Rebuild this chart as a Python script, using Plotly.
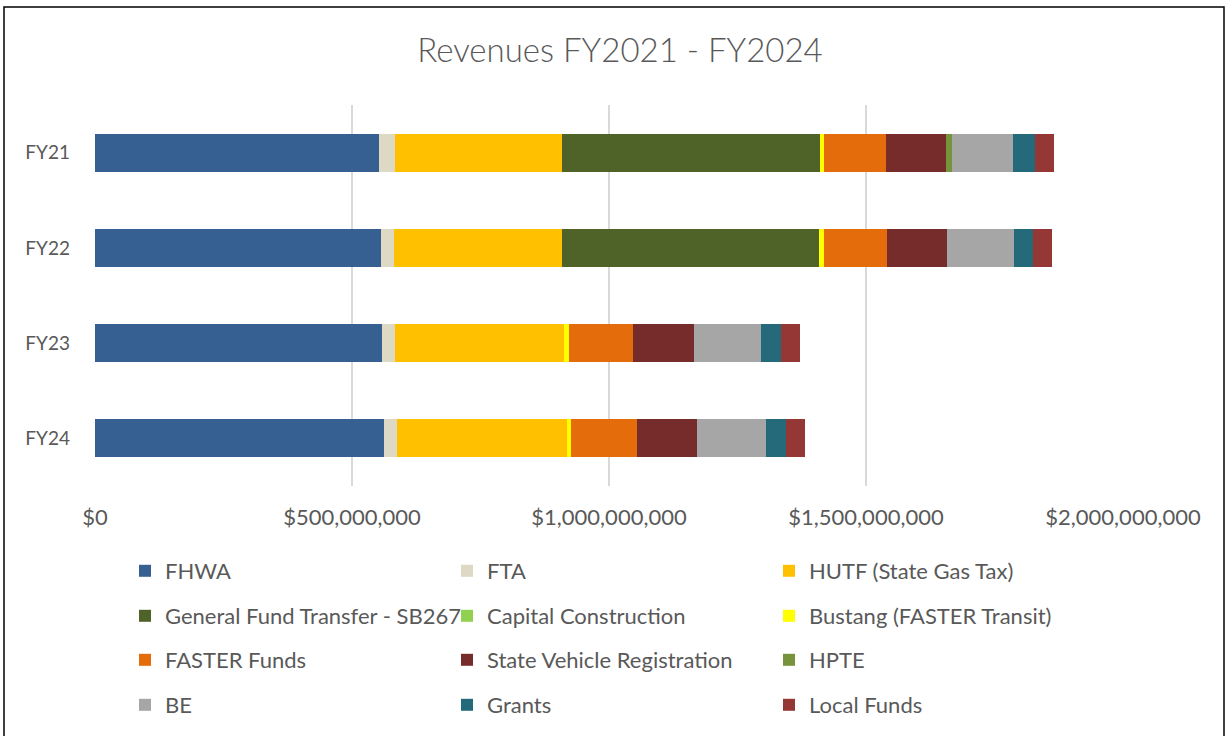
import plotly.graph_objects as go

categories = ["FY21", "FY22", "FY23", "FY24"]

series_names = [
    "FHWA", "FTA", "HUTF (State Gas Tax)",
    "General Fund Transfer - SB267", "Capital Construction", "Bustang (FASTER Transit)",
    "FASTER Funds", "State Vehicle Registration", "HPTE",
    "BE", "Grants", "Local Funds",
]

fhwa = [553e6, 557e6, 559e6, 562e6]
fta = [31e6, 25e6, 25e6, 25e6]
hutf = [325e6, 327e6, 329e6, 331e6]
general_fund = [501e6, 500e6, 0, 0]
capital_construction = [0, 0, 0, 0]
bustang = [8.5e6, 9e6, 8.5e6, 9e6]
faster_funds = [120e6, 123e6, 125e6, 127e6]
state_vehicle_reg = [117e6, 116e6, 119e6, 118e6]
hpte = [11e6, 0, 0, 0]
be = [119e6, 130e6, 131e6, 133e6]
grants = [44e6, 38e6, 38e6, 40e6]
local_funds = [36e6, 37e6, 37e6, 37e6]

series_values = [fhwa, fta, hutf, general_fund, capital_construction, bustang,
                 faster_funds, state_vehicle_reg, hpte, be, grants, local_funds]

colors = ["#376092", "#DDD9C4", "#FFC000", "#4F6228", "#92D050", "#FFFF00",
          "#E46C0A", "#772C2C", "#77933C", "#A6A6A6", "#256A7B", "#953735"]

tick_vals = [0, 500e6, 1000e6, 1500e6, 2000e6]
tick_text = ["$0", "$500,000,000", "$1,000,000,000", "$1,500,000,000", "$2,000,000,000"]

W, H = 1225, 736
ML, MR, MT, MB = 95, 102, 105, 250
PW = W - ML - MR
PH = H - MT - MB


def px_x(px):
    return (px - ML) / PW


def px_y(py):
    return (H - MB - py) / PH


TXT = "#595959"
FONT = "Lato"

fig = go.Figure()
legend_ids = ["legend", "legend2", "legend3", "legend4"]
for i, (name, vals, col) in enumerate(zip(series_names, series_values, colors)):
    fig.add_trace(go.Bar(
        y=categories, x=vals, name=name, orientation="h",
        marker=dict(color=col, line=dict(width=0)),
        legend=legend_ids[i // 3],
    ))

row_y = [571, 616, 660, 705]
legend_common = dict(
    orientation="h", xanchor="left", yanchor="middle",
    xref="container", yref="container",
    font=dict(family=FONT, size=22, color=TXT),
    entrywidth=277, entrywidthmode="pixels",
    bgcolor="rgba(0,0,0,0)", traceorder="normal",
)
layout_legends = {}
for k, lid in enumerate(legend_ids):
    layout_legends[lid] = dict(legend_common, x=125 / W, y=1 - row_y[k] / H)

fig.update_layout(
    width=W, height=H,
    margin=dict(l=ML, r=MR, t=MT, b=MB),
    barmode="stack", bargap=0.6,
    plot_bgcolor="white", paper_bgcolor="white",
    title=dict(text="Revenues FY2021 - FY2024", x=620 / W, xref="container",
               y=1 - 50 / H, yref="container", xanchor="center", yanchor="middle",
               font=dict(family=FONT, size=33, color=TXT, weight=300)),
    xaxis=dict(range=[0, 2e9], tickvals=tick_vals, ticktext=tick_text,
               showgrid=True, gridcolor="#D9D9D9", gridwidth=1.5,
               zeroline=False, showline=False,
               tickfont=dict(family=FONT, size=22, color=TXT),
               ticks="", ticklabelstandoff=16),
    yaxis=dict(autorange="reversed", showgrid=False, zeroline=False,
               tickfont=dict(family=FONT, size=19, color=TXT),
               ticks="", ticklabelstandoff=24),
    shapes=[dict(type="rect", xref="paper", yref="paper",
                 x0=px_x(4), x1=px_x(1224), y0=px_y(745), y1=px_y(7),
                 line=dict(color="black", width=1.5), fillcolor="rgba(0,0,0,0)",
                 layer="below")],
    **layout_legends,
)

fig.write_html(
    "out.html",
    config={"displayModeBar": False},
    post_script="document.body.style.margin='0';document.body.style.overflow='hidden';",
)
